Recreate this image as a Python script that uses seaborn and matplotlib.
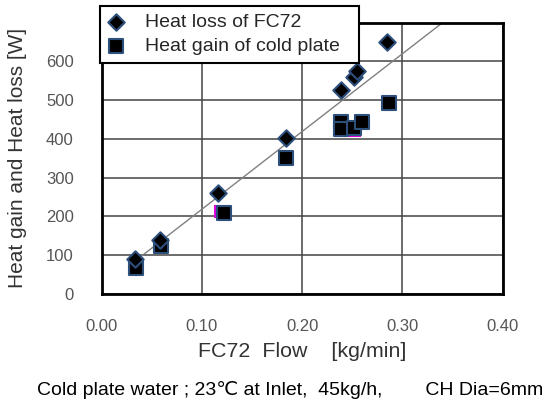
import matplotlib
matplotlib.use("Agg")
import matplotlib.pyplot as plt
import seaborn as sns
import pandas as pd

# FC72 flow [kg/min] and heat [W]
loss_flow = [0.0335, 0.0585, 0.116, 0.1835, 0.239, 0.252, 0.2545, 0.285]
heat_loss = [89, 139, 261, 403, 527, 559, 576, 651]

gain_flow = [0.0345, 0.0595, 0.122, 0.1835, 0.239, 0.239, 0.252, 0.260, 0.287]
heat_gain = [66, 123, 210, 351, 445, 426, 428, 443, 492]

# faint magenta points peeking out behind some squares
hidden_flow = [0.0325, 0.1185, 0.2375, 0.252, 0.2855]
hidden_heat = [67, 215, 424, 424, 489]

ref_flow = [0.0335, 0.34]
ref_heat = [85, 700]

sns.set_style("white")
plt.rcParams['font.family'] = ['Liberation Sans', 'DejaVu Sans']

loss_df = pd.DataFrame({"flow": loss_flow, "heat": heat_loss})
gain_df = pd.DataFrame({"flow": gain_flow, "heat": heat_gain})
hidden_df = pd.DataFrame({"flow": hidden_flow, "heat": hidden_heat})
ref_df = pd.DataFrame({"flow": ref_flow, "heat": ref_heat})

fig = plt.figure(figsize=(5.44, 4.03), dpi=100)
ax = fig.add_axes([0.1866, 0.2705, 0.7374, 0.6732])

sns.lineplot(data=ref_df, x="flow", y="heat", ax=ax, color="#808080",
             linewidth=1.0, zorder=2, legend=False)
sns.scatterplot(data=hidden_df, x="flow", y="heat", ax=ax, marker="s", s=85,
                color="#e000e0", edgecolor="#e000e0", zorder=3, legend=False)
sns.scatterplot(data=gain_df, x="flow", y="heat", ax=ax, marker="s", s=90,
                color="black", edgecolor="#2c4f7c", linewidth=1.5, zorder=4,
                label="Heat gain of cold plate")
sns.scatterplot(data=loss_df, x="flow", y="heat", ax=ax, marker="D", s=70,
                color="black", edgecolor="#2c4f7c", linewidth=1.5, zorder=5,
                label="Heat loss of FC72")

ax.set_xlim(0, 0.40)
ax.set_ylim(0, 700)
ax.set_xticks([0.0, 0.1, 0.2, 0.3, 0.4])
ax.set_xticklabels(["0.00", "0.10", "0.20", "0.30", "0.40"])
ax.set_yticks([0, 100, 200, 300, 400, 500, 600])
ax.tick_params(axis="both", labelsize=12, colors="#555555", length=0)
ax.tick_params(axis="x", pad=18)
ax.tick_params(axis="y", pad=20)
ax.grid(True, color="#444444", linewidth=1.1)
for sp in ax.spines.values():
    sp.set_color("black")
    sp.set_linewidth(2)

ax.set_xlabel("FC72  Flow    [kg/min]", fontsize=15.4, color="#333333")
ax.set_ylabel("Heat gain and Heat loss [W]", fontsize=15, color="#333333")
ax.xaxis.set_label_coords(0.5, -0.177)
ax.yaxis.set_label_coords(-0.186, 0.5)

handles, labels = ax.get_legend_handles_labels()
order = [labels.index("Heat loss of FC72"), labels.index("Heat gain of cold plate")]
leg = fig.legend([handles[i] for i in order], [labels[i] for i in order],
                 loc="upper left", bbox_to_anchor=(0.184, 0.845, 0.476, 0.14),
                 mode="expand", fontsize=14, frameon=True, fancybox=False,
                 edgecolor="black", framealpha=1, borderpad=0.4,
                 handlelength=0.8, handletextpad=1.1, labelspacing=0.3,
                 borderaxespad=0)
leg.get_frame().set_linewidth(1.5)
if ax.get_legend() is not None:
    ax.get_legend().remove()

fig.text(0.068, 0.032, "Cold plate water ; 23\u2103 at Inlet,  45kg/h,        CH Dia=6mm",
         fontsize=14, color="black", va="center")

fig.savefig("out.png", dpi=100)
